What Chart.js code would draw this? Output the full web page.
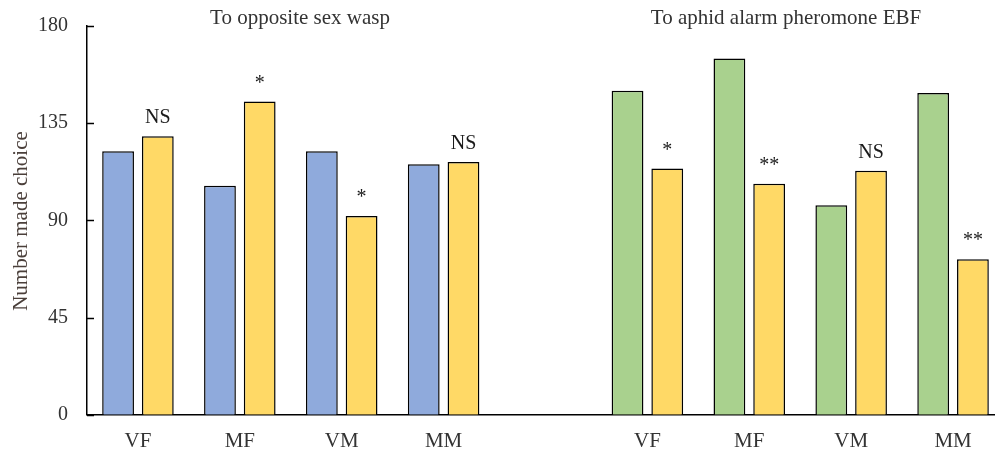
<!DOCTYPE html>
<html>
<head>
<meta charset="utf-8">
<script src="https://cdn.jsdelivr.net/npm/chart.js@4/dist/chart.umd.min.js"></script>
<style>
  html, body { margin: 0; padding: 0; background: #fff; overflow: hidden; }
  #wrap { width: 1006px; height: 468px; position: relative; }
</style>
</head>
<body>
<div id="wrap"><canvas id="c"></canvas></div>
<script>
const categories = ['VF', 'MF', 'VM', 'MM', '', 'VF', 'MF', 'VM', 'MM'];
const waspControl = [122, 106, 122, 116, null, null, null, null, null];
const ebfControl = [null, null, null, null, null, 150, 165, 97, 149];
const treatment = [129, 145, 92, 117, null, 114, 107, 113, 72];
const significance = ['NS', '*', '*', 'NS', '', '*', '**', 'NS', '**'];
const groupTitles = ['To opposite sex wasp', 'To aphid alarm pheromone EBF'];
const yTicks = [0, 45, 90, 135, 180];
const yTitle = 'Number made choice';

const SERIF = '"Liberation Serif", "Times New Roman", serif';
const TEXT = '#333333';

const overlay = {
  id: 'overlay',
  afterDatasetsDraw(chart) {
    const ctx = chart.ctx;
    const ys = chart.scales.y;
    const area = chart.chartArea;
    ctx.save();
    // inward y ticks
    ctx.strokeStyle = '#000';
    ctx.lineWidth = 1.5;
    yTicks.forEach(v => {
      const py = Math.round(ys.getPixelForValue(v)) + 0.5;
      ctx.beginPath();
      ctx.moveTo(area.left, py);
      ctx.lineTo(area.left + 7, py);
      ctx.stroke();
    });
    // significance labels over treatment bars
    const meta = chart.getDatasetMeta(2);
    ctx.fillStyle = '#1a1a1a';
    ctx.font = '20px ' + SERIF;
    ctx.textAlign = 'center';
    ctx.textBaseline = 'alphabetic';
    significance.forEach((s, i) => {
      if (!s) return;
      const el = meta.data[i];
      if (!el) return;
      ctx.fillText(s, el.x, el.y - 13);
    });
    // group titles
    ctx.fillStyle = TEXT;
    ctx.font = '21px ' + SERIF;
    ctx.textBaseline = 'middle';
    ctx.fillText(groupTitles[0], 300, 18);
    ctx.fillText(groupTitles[1], 786, 18);
    // y axis title
    ctx.save();
    ctx.translate(21, 221);
    ctx.rotate(-Math.PI / 2);
    ctx.fillStyle = '#4a3f3a';
    ctx.font = '21px ' + SERIF;
    ctx.textAlign = 'center';
    ctx.textBaseline = 'middle';
    ctx.fillText(yTitle, 0, 0);
    ctx.restore();
    ctx.restore();
  }
};

new Chart(document.getElementById('c'), {
  type: 'bar',
  data: {
    labels: categories,
    datasets: [
      { label: 'Control (wasp)', data: waspControl, stack: 'a',
        backgroundColor: '#8FAADC', borderColor: '#000', borderWidth: 1.5 },
      { label: 'Control (EBF)', data: ebfControl, stack: 'a',
        backgroundColor: '#A9D18E', borderColor: '#000', borderWidth: 1.5 },
      { label: 'Treatment', data: treatment, stack: 'b',
        backgroundColor: '#FFD966', borderColor: '#000', borderWidth: 1.5 }
    ]
  },
  options: {
    responsive: true,
    maintainAspectRatio: false,
    animation: false,
    devicePixelRatio: 1,
    layout: { padding: { top: 26, right: 2, bottom: 0, left: 19 } },
    datasets: { bar: { categoryPercentage: 0.78, barPercentage: 0.8 } },
    plugins: { legend: { display: false }, tooltip: { enabled: false }, title: { display: false } },
    scales: {
      x: {
        stacked: true,
        grid: { display: false, drawTicks: false },
        border: { display: true, color: '#000', width: 1.5 },
        ticks: { color: TEXT, font: { family: SERIF, size: 21 }, padding: 14, maxRotation: 0, autoSkip: false }
      },
      y: {
        stacked: true,
        min: 0, max: 180,
        afterBuildTicks(scale) { scale.ticks = yTicks.map(v => ({ value: v })); },
        afterFit(scale) { scale.paddingTop = 0; scale.paddingBottom = 0; },
        grid: { display: false, drawTicks: false },
        border: { display: true, color: '#000', width: 1.5 },
        ticks: { color: TEXT, font: { family: SERIF, size: 20 }, padding: 19 }
      }
    }
  },
  plugins: [overlay]
});
</script>
</body>
</html>
